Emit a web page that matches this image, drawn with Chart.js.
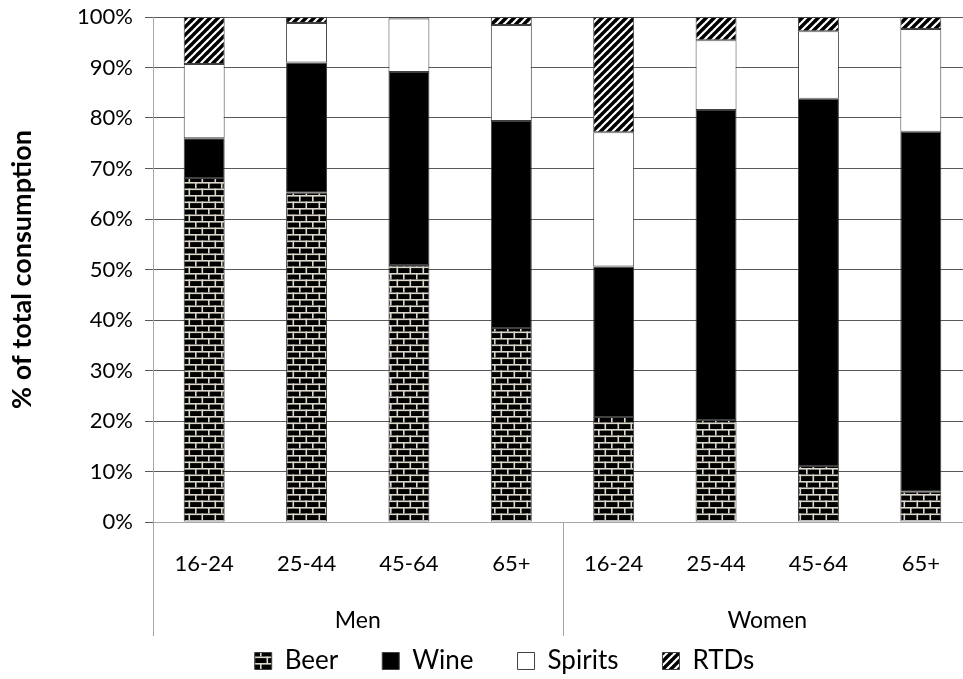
<!DOCTYPE html>
<html>
<head>
<meta charset="utf-8">
<script src="https://cdn.jsdelivr.net/npm/chart.js@4/dist/chart.umd.min.js"></script>
<style>
  html, body { margin: 0; padding: 0; overflow: hidden; background: #ffffff; }
  #wrap { position: relative; width: 1009px; height: 679px; }
</style>
</head>
<body>
<div id="wrap"><canvas id="chart"></canvas></div>
<script>
// Share of total alcohol consumption by drink type, sex and age group (%)
const ageGroups = ['16-24', '25-44', '45-64', '65+', '16-24', '25-44', '45-64', '65+'];
const sexGroups = ['Men', 'Women'];
const beer    = [68.1, 65.2, 50.9, 38.4, 20.8, 20.2, 11.1, 6.0];
const wine    = [7.9, 25.8, 38.2, 41.0, 29.8, 61.4, 72.7, 71.3];
const spirits = [14.7, 7.8, 10.6, 19.0, 26.6, 13.8, 13.4, 20.3];
const rtds    = [9.3, 1.2, 0.3, 1.6, 22.8, 4.6, 2.8, 2.4];
const seriesNames = ['Beer', 'Wine', 'Spirits', 'RTDs'];
const yAxisTitle = '% of total consumption';

const FONT = 'Lato';
const canvas = document.getElementById('chart');
const ctx = canvas.getContext('2d');

// Brick fill: black bricks with light mortar joints
function brickPattern() {
  const t = document.createElement('canvas');
  t.width = 13; t.height = 13;
  const g = t.getContext('2d');
  g.fillStyle = '#000000';
  g.fillRect(0, 0, 13, 13);
  g.fillStyle = '#dcd8cc';
  g.fillRect(0, 0, 13, 1.6);
  g.fillRect(0, 6.5, 13, 1.6);
  g.fillRect(0, 0, 1.6, 6.5);
  g.fillRect(6.5, 6.5, 1.6, 6.5);
  return ctx.createPattern(t, 'repeat');
}

// Wide diagonal hatch: white "/" stripes on black
function hatchPattern() {
  const s = 8;
  const t = document.createElement('canvas');
  t.width = s; t.height = s;
  const g = t.getContext('2d');
  g.fillStyle = '#000000';
  g.fillRect(0, 0, s, s);
  g.strokeStyle = '#ffffff';
  g.lineWidth = 2.2;
  [0, s, 2 * s].forEach(k => {
    g.beginPath();
    g.moveTo(k - s - 2, s + 2);
    g.lineTo(k + 2, -2);
    g.stroke();
  });
  return ctx.createPattern(t, 'repeat');
}

const fills = [brickPattern(), '#000000', '#ffffff', hatchPattern()];
const values = [beer, wine, spirits, rtds];

// Vertical dividers framing the Men / Women groups below the axis
const groupDividers = {
  id: 'groupDividers',
  afterDraw(chart) {
    const x = chart.scales.x;
    const c = chart.ctx;
    const per = ageGroups.length / sexGroups.length;
    const xs = [x.left];
    for (let g = 1; g < sexGroups.length; g++) {
      xs.push((x.getPixelForValue(g * per - 1) + x.getPixelForValue(g * per)) / 2);
    }
    xs.push(x.right);
    c.save();
    c.strokeStyle = '#a6a6a6';
    c.lineWidth = 1;
    xs.forEach(px => {
      const p = Math.round(px) + 0.5;
      c.beginPath();
      c.moveTo(p, chart.chartArea.bottom);
      c.lineTo(p, chart.chartArea.bottom + 114);
      c.stroke();
    });
    c.restore();
  }
};

new Chart(canvas, {
  type: 'bar',
  data: {
    labels: ageGroups,
    datasets: seriesNames.map((name, i) => ({
      label: name,
      data: values[i],
      backgroundColor: fills[i],
      borderColor: '#404040',
      borderWidth: 1,
      borderSkipped: false,
      categoryPercentage: 1.0,
      barPercentage: 0.4
    }))
  },
  options: {
    responsive: true,
    maintainAspectRatio: false,
    animation: false,
    layout: { padding: { top: 17, left: 0, right: 0, bottom: -5 } },
    plugins: {
      tooltip: { enabled: false },
      legend: {
        position: 'bottom',
        labels: {
          font: { family: FONT, size: 26 },
          color: '#000000',
          boxWidth: 17,
          boxHeight: 17,
          padding: 44
        }
      }
    },
    scales: {
      x: {
        stacked: true,
        grid: { display: false, drawTicks: false },
        border: { display: true, color: '#a6a6a6' },
        ticks: {
          font: { family: FONT, size: 22 },
          color: '#000000',
          padding: 29,
          autoSkip: false,
          maxRotation: 0
        },
        afterFit(s) { s.height = 60; }
      },
      x2: {
        type: 'category',
        labels: sexGroups,
        position: 'bottom',
        offset: true,
        grid: { display: false, drawTicks: false },
        border: { display: false },
        ticks: {
          font: { family: FONT, size: 23 },
          color: '#000000',
          padding: -52,
          mirror: true,
          maxRotation: 0
        },
        afterFit(s) { s.height = 22; }
      },
      y: {
        stacked: true,
        min: 0,
        max: 100,
        ticks: {
          stepSize: 10,
          font: { family: FONT, size: 22 },
          color: '#000000',
          padding: 12,
          callback: v => v + '%'
        },
        grid: { color: '#595959', tickLength: 8 },
        border: { display: true, color: '#a6a6a6' },
        title: {
          display: true,
          text: yAxisTitle,
          font: { family: FONT, size: 27, weight: 'bold' },
          color: '#000000',
          padding: { top: 6, bottom: 0 }
        },
        afterFit(s) {
          s.width = 153;
          s.paddingTop = 13;
          s.paddingBottom = 13;
        }
      },
      yRight: {
        position: 'right',
        display: true,
        ticks: { display: false },
        grid: { display: false, drawTicks: false },
        border: { display: false },
        afterFit(s) { s.width = 37; }
      }
    }
  },
  plugins: [groupDividers]
});
</script>
</body>
</html>
